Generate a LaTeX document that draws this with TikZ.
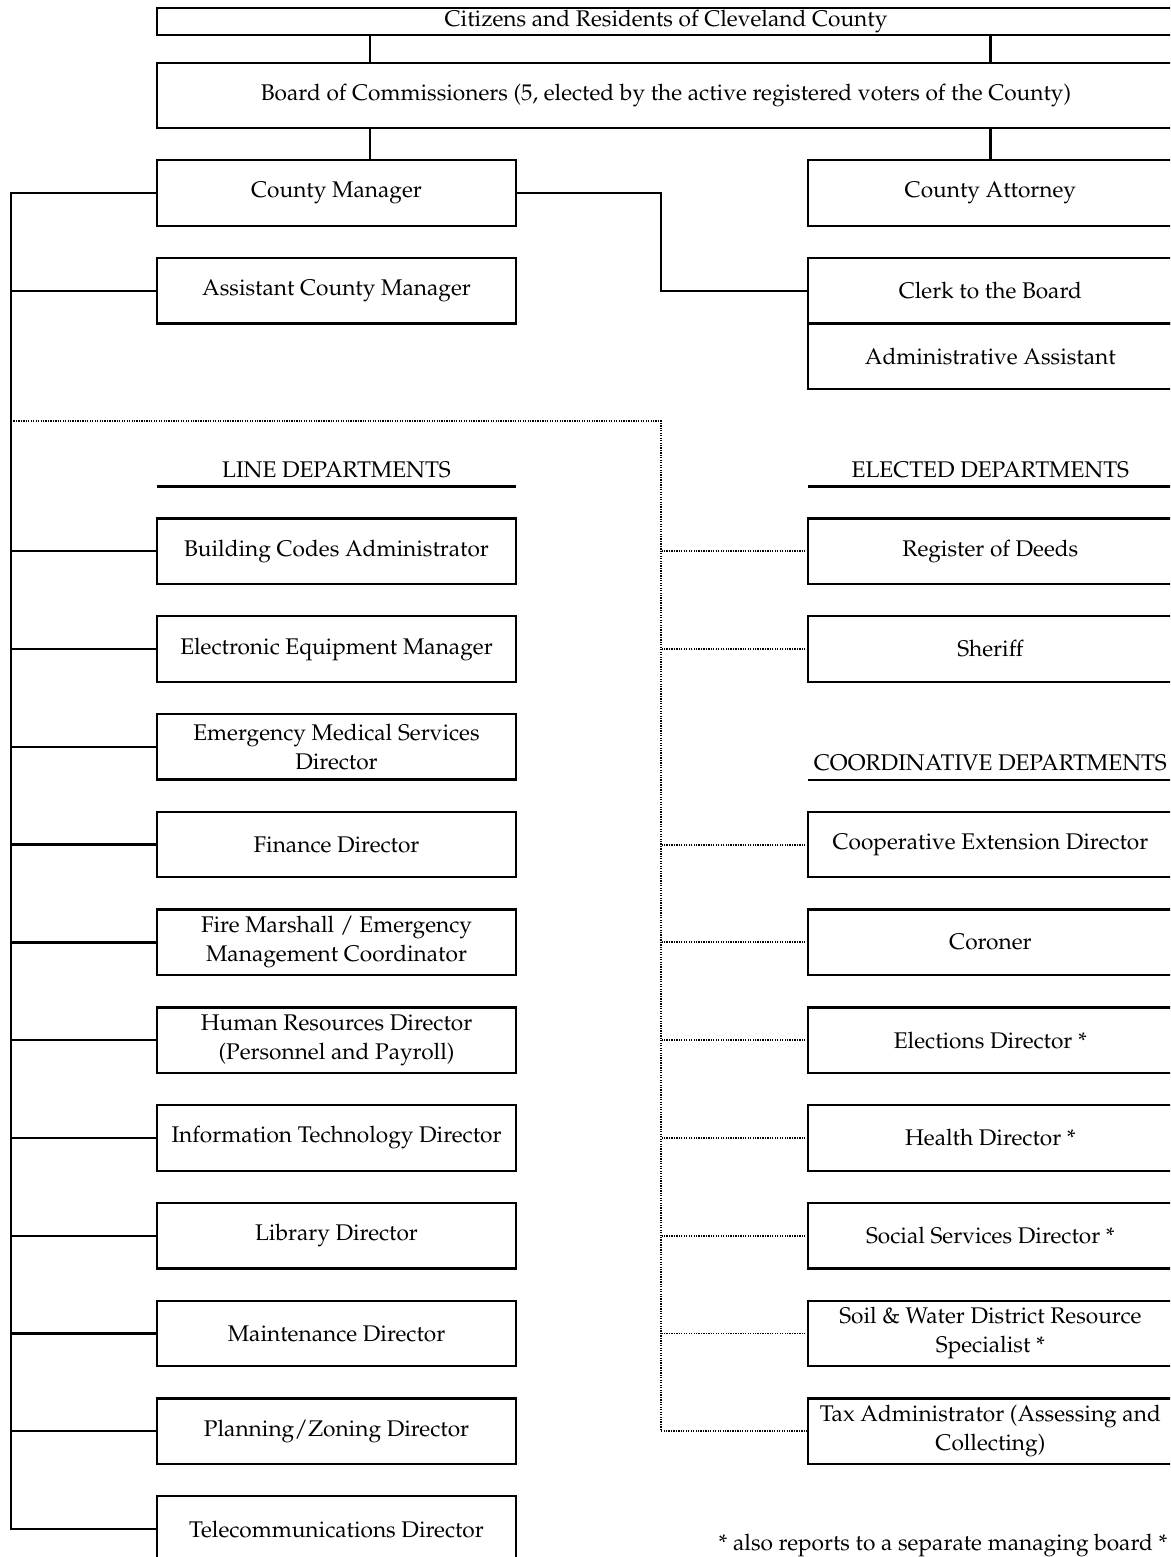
\documentclass[tikz,border=0pt]{standalone}
\usepackage[T1]{fontenc}
\usepackage{mathpazo}
\usetikzlibrary{positioning,calc}
\tikzset{
	orgline/.style={line width=1.3pt},
	%
	dotline/.style={line width=1.1pt, dash pattern=on 0.7pt off 0.7pt},
	%
	widebox/.style={
		rectangle, draw, line width=1.3pt, outer sep=0pt, minimum width=20.36cm, inner sep=0pt, align=center
	},
	%
	leftbox/.style={
		rectangle, draw, line width=1.3pt, outer sep=0pt, minimum width=7.18cm, minimum height=1.31cm, inner sep=0pt, align=center
	},
	%
	rightbox/.style={
		rectangle, draw, line width=1.3pt, outer sep=0pt, minimum width=7.3cm, minimum height=1.31cm, inner sep=0pt, align=center
	},
	%
	heading/.style={
		rectangle, outer sep=0pt, inner xsep=0pt, inner ysep=0.18cm
	}
}

\begin{document}
\begin{tikzpicture}[x=0.02cm, y=-0.02cm, font=\fontsize{12.9}{16.5}\selectfont]
    \useasboundingbox (0,0) rectangle (1170,1557);
    \clip (0,0) rectangle (1170,1557);
    % top of the chart
    \node(citizens)[widebox, minimum height=0.54cm] at (666,21.5){Citizens and Residents of Cleveland County};
    \node(board)[widebox, minimum height=1.3cm, below=0.56cm of citizens]{Board of Commissioners (5, elected by the active registered voters of the County)};
    \node(manager)[leftbox] at (336.5,193){County Manager};
    \node(attorney)[rightbox, right=5.84cm of manager]{County Attorney};
    \node(asst)[leftbox, below=0.646cm of manager]{Assistant County Manager};
    \node(clerk)[rightbox, right=5.84cm of asst]{Clerk to the Board};
    \node(admin)[rightbox, below=0pt of clerk]{Administrative Assistant};
    % line departments
    \node(bldg)[leftbox, below=3.9cm of asst]{Building Codes Administrator};
    \node(equip)[leftbox, below=0.646cm of bldg]{Electronic Equipment Manager};
    \node(ems)[leftbox, below=0.646cm of equip]{Emergency Medical Services\\Director};
    \node(finance)[leftbox, below=0.646cm of ems]{Finance Director};
    \node(fire)[leftbox, below=0.646cm of finance]{Fire Marshall / Emergency\\Management Coordinator};
    \node(hr)[leftbox, below=0.646cm of fire]{Human Resources Director\\(Personnel and Payroll)};
    \node(it)[leftbox, below=0.646cm of hr]{Information Technology Director};
    \node(library)[leftbox, below=0.646cm of it]{Library Director};
    \node(maint)[leftbox, below=0.646cm of library]{Maintenance Director};
    \node(planning)[leftbox, below=0.646cm of maint]{Planning/Zoning Director};
    \node(telecom)[leftbox, below=0.646cm of planning]{Telecommunications Director};
    % elected and coordinative departments
    \node(deeds)[rightbox, right=5.84cm of bldg]{Register of Deeds};
    \node(sheriff)[rightbox, right=5.84cm of equip]{Sheriff};
    \node(coop)[rightbox, right=5.84cm of finance]{Cooperative Extension Director};
    \node(coroner)[rightbox, right=5.84cm of fire]{Coroner};
    \node(elections)[rightbox, right=5.84cm of hr]{Elections Director *};
    \node(health)[rightbox, right=5.84cm of it]{Health Director *};
    \node(social)[rightbox, right=5.84cm of library]{Social Services Director *};
    \node(soil)[rightbox, right=5.84cm of maint]{Soil \& Water District Resource\\Specialist *};
    \node(tax)[rightbox, right=5.84cm of planning]{Tax Administrator (Assessing and\\Collecting)};
    % headings
    \node(linehead)[heading, minimum width=7.18cm, above=0.64cm of bldg]{LINE DEPARTMENTS};
    \node(electhead)[heading, minimum width=7.3cm, above=0.64cm of deeds]{ELECTED DEPARTMENTS};
    \node(coordhead)[heading, minimum width=7.3cm, above=0.64cm of coop]{COORDINATIVE DEPARTMENTS};
    \draw[orgline] (linehead.south west) -- (linehead.south east);
    \draw[orgline] (electhead.south west) -- (electhead.south east);
    \draw[orgline] (coordhead.south west) -- (coordhead.south east);
    \node(note) at (943,1545){* also reports to a separate managing board *};
    % solid connectors
    \coordinate(drop) at (370,0);
    \coordinate(bus) at (11,0);
    \coordinate(jog) at (661,421);
    \draw[orgline] (citizens.south -| drop) -- (board.north -| drop);
    \draw[orgline] (citizens.south -| attorney.north) -- (board.north -| attorney.north);
    \draw[orgline] (board.south -| drop) -- (manager.north -| drop);
    \draw[orgline] (board.south -| attorney.north) -- (attorney.north);
    \draw[orgline] (manager.east) -- (manager.east -| jog) |- (clerk.west);
    \draw[orgline] (manager.west) -- (manager.west -| bus) -- (telecom.west -| bus) -- (telecom.west);
    \draw[orgline] (asst.west) -- (asst.west -| bus);
    \draw[orgline] (bldg.west) -- (bldg.west -| bus);
    \draw[orgline] (equip.west) -- (equip.west -| bus);
    \draw[orgline] (ems.west) -- (ems.west -| bus);
    \draw[orgline] (finance.west) -- (finance.west -| bus);
    \draw[orgline] (fire.west) -- (fire.west -| bus);
    \draw[orgline] (hr.west) -- (hr.west -| bus);
    \draw[orgline] (it.west) -- (it.west -| bus);
    \draw[orgline] (library.west) -- (library.west -| bus);
    \draw[orgline] (maint.west) -- (maint.west -| bus);
    \draw[orgline] (planning.west) -- (planning.west -| bus);
    % dotted connectors
    \draw[dotline] (jog -| bus) -- (jog) |- (tax.west);
    \draw[dotline] (deeds.west) -- (deeds.west -| jog);
    \draw[dotline] (sheriff.west) -- (sheriff.west -| jog);
    \draw[dotline] (coop.west) -- (coop.west -| jog);
    \draw[dotline] (coroner.west) -- (coroner.west -| jog);
    \draw[dotline] (elections.west) -- (elections.west -| jog);
    \draw[dotline] (health.west) -- (health.west -| jog);
    \draw[dotline] (social.west) -- (social.west -| jog);
    \draw[dotline] (soil.west) -- (soil.west -| jog);
\end{tikzpicture}
\end{document}
